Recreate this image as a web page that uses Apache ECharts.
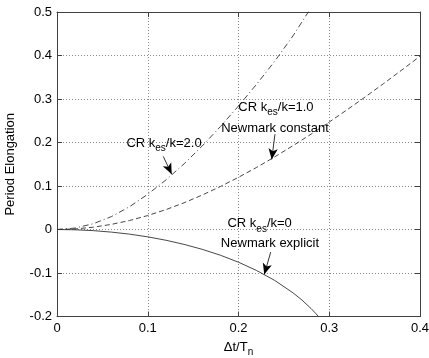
<!DOCTYPE html>
<html>
<head>
<meta charset="utf-8">
<script src="https://cdn.jsdelivr.net/npm/echarts@6/dist/echarts.min.js"></script>
<style>
  html, body { margin: 0; padding: 0; background: #fff; }
  #chart { width: 429px; height: 358px; }
</style>
</head>
<body>
<div id="chart"></div>
<script>
// Axis ticks and their labels
const xTicks = [0, 0.1, 0.2, 0.3, 0.4];
const xTickLabels = ['0', '0.1', '0.2', '0.3', '0.4'];
const yTicks = [-0.2, -0.1, 0, 0.1, 0.2, 0.3, 0.4, 0.5];
const yTickLabels = ['-0.2', '-0.1', '0', '0.1', '0.2', '0.3', '0.4', '0.5'];

// Period elongation vs. dt/Tn
// CR kes/k=0  (same as Newmark explicit)
const dtExplicit = [0, 0.02, 0.04, 0.06, 0.08, 0.10, 0.12, 0.14, 0.16, 0.18, 0.20, 0.22, 0.24, 0.26, 0.27, 0.28, 0.285, 0.29];
const peExplicit = [0, -0.0007, -0.0026, -0.0060, -0.0107, -0.0169, -0.0247, -0.0342, -0.0456, -0.0591, -0.0752, -0.0943, -0.1172, -0.1455, -0.1623, -0.1818, -0.1927, -0.2049];

// CR kes/k=1.0  (same as Newmark constant average acceleration)
const dtConstant = [0, 0.02, 0.04, 0.06, 0.08, 0.10, 0.12, 0.14, 0.16, 0.18, 0.20, 0.22, 0.24, 0.26, 0.28, 0.30, 0.32, 0.34, 0.36, 0.38, 0.40];
const peConstant = [0, 0.0013, 0.0053, 0.0118, 0.0207, 0.0321, 0.0457, 0.0614, 0.0792, 0.0988, 0.1200, 0.1428, 0.1671, 0.1926, 0.2193, 0.2470, 0.2757, 0.3053, 0.3356, 0.3667, 0.3984];

// CR kes/k=2.0
const dtCR2 = [0, 0.02, 0.04, 0.06, 0.08, 0.10, 0.12, 0.14, 0.16, 0.18, 0.20, 0.22, 0.24, 0.26, 0.28];
const peCR2 = [0, 0.0033, 0.0133, 0.0297, 0.0525, 0.081, 0.1138, 0.1509, 0.192, 0.2365, 0.284, 0.334, 0.387, 0.445, 0.51];

const FONT = '"Liberation Sans", Arial, Helvetica, sans-serif';
const INK = '#000';
const FRAME = '#404040';
const CURVE = '#333';

function pairs(xs, ys) { return xs.map((x, i) => [x, ys[i]]); }
function tickLabel(ticks, labels) {
  return function (v) {
    const i = ticks.findIndex(t => Math.abs(t - v) < 1e-9);
    return i >= 0 ? labels[i] : '';
  };
}

const rich = {
  t: { fontFamily: FONT, fontSize: 13, color: INK },
  s: { fontFamily: FONT, fontSize: 10, color: INK, padding: [10, 0, 0, 0] }
};

// text notes, placed in data coordinates
function note(coord, text) {
  return {
    coord: coord,
    symbol: 'circle',
    symbolSize: 1,
    itemStyle: { color: 'rgba(0,0,0,0)' },
    label: {
      show: true, position: 'inside', formatter: text,
      align: 'center', verticalAlign: 'middle', rich: rich
    }
  };
}
function arrow(from, to) {
  return [{ coord: from }, { coord: to }];
}

const chart = echarts.init(document.getElementById('chart'), null, { renderer: 'canvas' });

const axisCommon = {
  type: 'value',
  axisLine: { show: true, onZero: false, lineStyle: { color: FRAME, width: 1 } },
  axisTick: { show: true, inside: true, length: 5, lineStyle: { color: FRAME, width: 1 } },
  minorTick: { show: false }
};

function curve(name, xs, ys, dash, notes, arrows) {
  return {
    name: name, type: 'line', xAxisIndex: 0, yAxisIndex: 0,
    data: pairs(xs, ys),
    showSymbol: false, symbol: 'none', smooth: false, clip: true, silent: true,
    lineStyle: { color: CURVE, width: 0.9, type: dash },
    markPoint: { silent: true, animation: false, data: notes },
    markLine: {
      silent: true, animation: false, symbol: ['none', 'arrow'], symbolSize: [7, 11],
      label: { show: false },
      lineStyle: { color: '#000', width: 0.8, type: 'solid' },
      data: arrows
    }
  };
}

const option = {
  animation: false,
  backgroundColor: '#fff',
  grid: { left: 57, top: 12, width: 363, height: 304.5, containLabel: false, outerBoundsMode: 'none' },
  xAxis: [
    Object.assign({}, axisCommon, {
      position: 'bottom', min: 0, max: 0.4, interval: 0.1,
      axisLabel: { formatter: tickLabel(xTicks, xTickLabels), fontFamily: FONT, fontSize: 13, color: INK, margin: 5 },
      splitLine: { show: true, lineStyle: { color: '#8a8a8a', width: 1, type: [1, 2] } },
      name: '{t|\u0394t/T}{s|n}', nameLocation: 'middle', nameGap: 21,
      nameTextStyle: { rich: rich }
    }),
    Object.assign({}, axisCommon, {
      position: 'top', min: 0, max: 0.4, interval: 0.1,
      axisLabel: { show: false }, splitLine: { show: false }
    })
  ],
  yAxis: [
    Object.assign({}, axisCommon, {
      position: 'left', min: -0.2, max: 0.5, interval: 0.1,
      axisLabel: { formatter: tickLabel(yTicks, yTickLabels), fontFamily: FONT, fontSize: 13, color: INK, margin: 5 },
      splitLine: { show: true, lineStyle: { color: '#8a8a8a', width: 1, type: [1, 2] } },
      name: 'Period Elongation', nameLocation: 'middle', nameGap: 40,
      nameTextStyle: { fontFamily: FONT, fontSize: 13, color: INK }
    }),
    Object.assign({}, axisCommon, {
      position: 'right', min: -0.2, max: 0.5, interval: 0.1,
      axisLabel: { show: false }, splitLine: { show: false }
    })
  ],
  series: [
    curve('CR kes/k=0', dtExplicit, peExplicit, 'solid',
      [note([0.2233, 0.0131], '{t|CR k}{s|es}{t|/k=0}'),
       note([0.2347, -0.0329], '{t|Newmark explicit}')],
      [arrow([0.2355, -0.052], [0.2284, -0.1034])]),
    curve('CR kes/k=1.0', dtConstant, peConstant, [5, 3],
      [note([0.2413, 0.2805], '{t|CR k}{s|es}{t|/k=1.0}'),
       note([0.2402, 0.2315], '{t|Newmark constant}')],
      [arrow([0.2402, 0.219], [0.2366, 0.161])]),
    curve('CR kes/k=2.0', dtCR2, peCR2, [6, 3, 1, 3],
      [note([0.1179, 0.1977], '{t|CR k}{s|es}{t|/k=2.0}')],
      [arrow([0.1171, 0.168], [0.1264, 0.127])])
  ]
};

chart.setOption(option);
</script>
</body>
</html>
